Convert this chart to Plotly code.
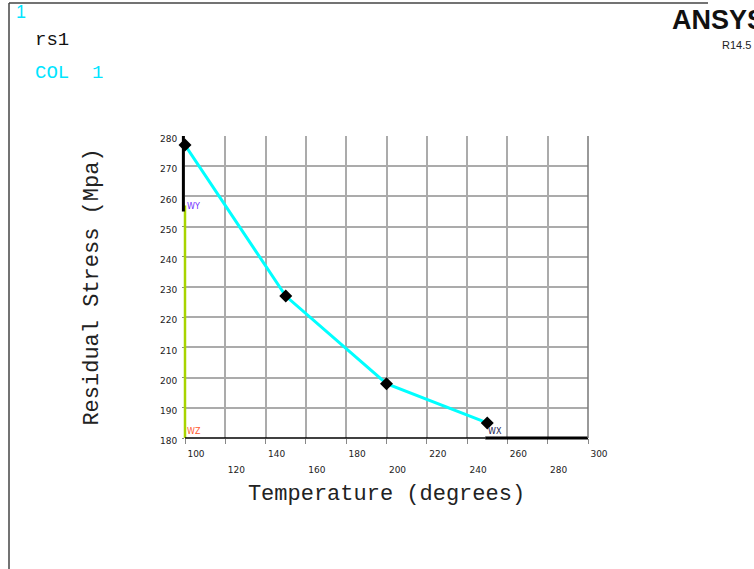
import plotly.graph_objects as go

# Residual stress vs. temperature (ANSYS-style XY graph)
temperature = [100, 150, 200, 250]
stress = [277, 227, 198, 185]

x_ticks_upper = [100, 140, 180, 220, 260, 300]
x_ticks_lower = [120, 160, 200, 240, 280]
x_grid = list(range(100, 320, 20))
y_ticks = list(range(180, 290, 10))

W, H = 754, 569
L, R, T, B = 185, 166, 136, 131
PW, PH = W - L - R, H - T - B


def px(x):
    return (x - L) / PW


def py(y):
    return (H - B - y) / PH


mono = "Liberation Mono, Courier New, monospace"
sans = "DejaVu Sans, Verdana, sans-serif"

fig = go.Figure()

fig.add_trace(go.Scatter(
    x=temperature, y=stress, mode="lines+markers",
    line=dict(color="#00ffff", width=3),
    marker=dict(symbol="diamond", size=10, color="black"),
    showlegend=False, cliponaxis=False,
))
# invisible trace so the second (staggered label) axis is drawn
fig.add_trace(go.Scatter(x=[100, 300], y=[None, None], xaxis="x2",
                         showlegend=False, hoverinfo="skip"))

grid_col = "#ababab"
fig.update_layout(
    width=W, height=H,
    margin=dict(l=L, r=R, t=T, b=B),
    paper_bgcolor="white", plot_bgcolor="white",
    xaxis=dict(
        range=[100, 300], tickvals=x_grid,
        ticktext=[str(v) if v in x_ticks_upper else "" for v in x_grid],
        showgrid=True, gridcolor=grid_col, gridwidth=1.5,
        zeroline=False, showline=False,
        ticks="outside", ticklen=5, tickcolor="#888888", tickwidth=1,
        ticklabelshift=11, ticklabelstandoff=2,
        tickfont=dict(family=sans, size=9, color="#222222"),
        title=dict(text="Temperature (degrees)",
                   font=dict(family=mono, size=22, color="#222222"),
                   standoff=26),
    ),
    xaxis2=dict(
        range=[100, 300], overlaying="x", side="bottom", anchor="y",
        tickvals=x_ticks_lower, ticktext=[str(v) for v in x_ticks_lower],
        showgrid=False, zeroline=False, showline=False, ticks="",
        ticklabelshift=11, ticklabelstandoff=25,
        tickfont=dict(family=sans, size=9, color="#222222"),
    ),
    yaxis=dict(
        range=[180, 280], tickvals=y_ticks,
        showgrid=True, gridcolor=grid_col, gridwidth=1.5,
        zeroline=False, showline=False,
        ticks="outside", ticklen=2, tickcolor="#888888",
        ticklabelshift=3, ticklabelstandoff=3,
        tickfont=dict(family=sans, size=9, color="#222222"),
        title=dict(text="Residual Stress (Mpa)",
                   font=dict(family=mono, size=22, color="#222222"),
                   standoff=55),
    ),
)

# axis triad segments (paper-referenced so they are not clipped at the edge)
fig.add_shape(type="line", xref="paper", yref="y", x0=0, x1=0, y0=180, y1=257,
              line=dict(color="#a8d400", width=2.5), layer="above")
fig.add_shape(type="line", xref="paper", yref="y", x0=-0.004, x1=-0.004,
              y0=255, y1=280, line=dict(color="black", width=3), layer="above")
fig.add_shape(type="line", xref="x", yref="paper", x0=100, x1=249, y0=0, y1=0,
              line=dict(color="black", width=1.5))
fig.add_shape(type="line", xref="x", yref="paper", x0=249, x1=300, y0=0, y1=0,
              line=dict(color="black", width=3))
fig.add_shape(type="line", xref="paper", yref="y", x0=1, x1=1, y0=180, y1=280,
              line=dict(color="#777777", width=1.5))

# window frame
fig.add_shape(type="line", xref="paper", yref="paper",
              x0=px(9), x1=px(9), y0=py(3), y1=py(H + 5),
              line=dict(color="#444444", width=1.5))
fig.add_shape(type="line", xref="paper", yref="paper",
              x0=px(9), x1=px(708), y0=py(3), y1=py(3),
              line=dict(color="#444444", width=1.5))

ann = [
    dict(text="WY", x=100, y=256.5, xref="x", yref="y", xanchor="left",
         font=dict(family=sans, size=8, color="#7030ff")),
    dict(text="WZ", x=100, y=182.3, xref="x", yref="y", xanchor="left",
         font=dict(family=sans, size=8, color="#ff5a30")),
    dict(text="WX", x=249.5, y=182.3, xref="x", yref="y", xanchor="left",
         font=dict(family=sans, size=8, color="#202050")),
    dict(text="1", x=px(14), y=py(12), xref="paper", yref="paper",
         xanchor="left", font=dict(family="Liberation Sans, Arial", size=18,
                                   color="#00e5ff")),
    dict(text="rs1", x=px(33), y=py(40), xref="paper", yref="paper",
         xanchor="left", font=dict(family=mono, size=19, color="#111111")),
    dict(text="COL  1", x=px(33), y=py(73), xref="paper", yref="paper",
         xanchor="left", font=dict(family=mono, size=19, color="#00e5ff")),
    dict(text="<b>ANSYS</b>", x=px(670), y=py(20), xref="paper", yref="paper",
         xanchor="left", font=dict(family="Liberation Sans, Arial", size=27,
                                   color="#111111")),
    dict(text="R14.5", x=px(720), y=py(45), xref="paper", yref="paper",
         xanchor="left", font=dict(family="Liberation Sans, Arial", size=11,
                                   color="#222222")),
]
for a in ann:
    a.setdefault("showarrow", False)
    a.setdefault("yanchor", "middle")
    fig.add_annotation(**a)

fig.write_html("out.html")
